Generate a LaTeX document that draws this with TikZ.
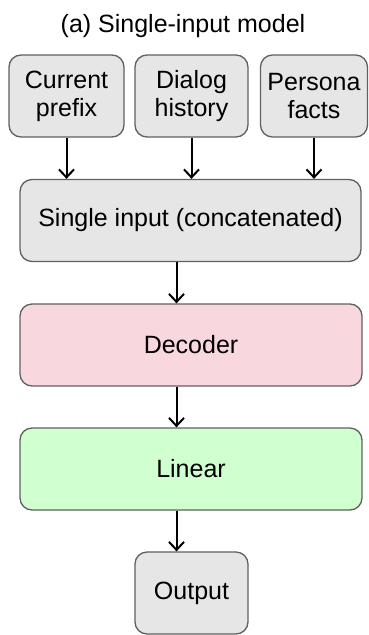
\documentclass[tikz,border=0pt]{standalone}
\usepackage{fontspec}
\setmainfont{Liberation Sans}
\usetikzlibrary{arrows.meta}
\definecolor{boxgray}{RGB}{230,230,230}
\definecolor{boxline}{RGB}{96,96,96}
\definecolor{decpink}{RGB}{248,215,222}
\definecolor{lingreen}{RGB}{208,255,208}
\tikzset{
  blk/.style={draw=boxline, line width=1.3pt, rounded corners=12pt, fill=boxgray,
    minimum height=82pt, align=center, inner sep=2pt},
  arr/.style={->, line width=2pt}
}
\begin{document}
\begin{tikzpicture}[x=1pt, y=-1pt, >={Straight Barb[length=8pt,width=15pt]},
  font=\fontsize{25}{28}\selectfont]
\useasboundingbox (0,0) rectangle (369,635);

\node (title) at (183,26) {(a) Single-input model};

% inputs
\node[blk, minimum width=115pt] (cp) at (66.5,96) {Current\\prefix};
\node[blk, minimum width=113pt] (dh) at (191.5,96) {Dialog\\history};
\node[blk, minimum width=107pt] (pf) at (314,96) {Persona\\facts};

\node[blk, minimum width=341pt] (si) at (190.5,220.5) {Single input (concatenated)};
\node[blk, minimum width=342pt, fill=decpink] (dec) at (191,345) {Decoder};
\node[blk, minimum width=342pt, fill=lingreen] (lin) at (191,469) {Linear};
\node[blk, minimum width=113pt] (out) at (191.5,593) {Output};

\coordinate (spine) at (176.5,0);

\draw[arr] (cp.south) -- (cp.south |- si.north);
\draw[arr] (dh.south) -- (dh.south |- si.north);
\draw[arr] (pf.south) -- (pf.south |- si.north);

\draw[arr] (si.south -| spine) -- (dec.north -| spine);
\draw[arr] (dec.south -| spine) -- (lin.north -| spine);
\draw[arr] (lin.south -| spine) -- (out.north -| spine);
\end{tikzpicture}
\end{document}
